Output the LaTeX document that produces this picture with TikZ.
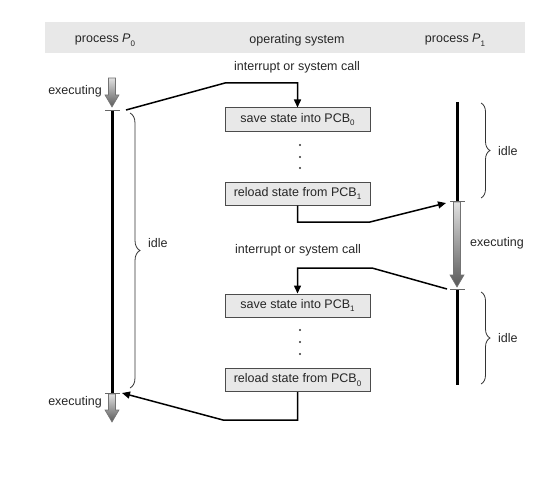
\documentclass[tikz,border=0pt]{standalone}
\usepackage{fontspec}
\setmainfont{Liberation Sans}
\usetikzlibrary{arrows.meta,decorations.pathreplacing,calc}
\newcommand\lowsub[1]{\raisebox{-3.5pt}{\fontsize{8}{8}\selectfont #1}}
\newcommand\gradarrow[3]{%
  \shade[top color=black!12,bottom color=black!65,draw=black!55,line width=0.6pt]
    ({#1-3.5},#2) -- ({#1+3.5},#2) -- ({#1+3.5},{#3-12}) -- ({#1+7},{#3-12}) -- (#1,#3)
    -- ({#1-7},{#3-12}) -- ({#1-3.5},{#3-12}) -- cycle;}
\begin{document}
\begin{tikzpicture}[x=1pt,y=-1pt,
  lbl/.style={font=\fontsize{12.5}{14}\selectfont, text=black!85, inner sep=0pt},
  osbox/.style={draw=black!70, fill=black!9, line width=1pt, minimum width=145pt,
    minimum height=23pt, inner sep=0pt, font=\fontsize{12.5}{14}\selectfont, text=black!85},
  conn/.style={line width=1.5pt, black},
  arr/.style={conn, -{Triangle[length=8pt,width=7pt]}},
  tickmark/.style={draw=black!60, line width=1pt},
  timeline/.style={line width=3pt, black},
  bracemark/.style={decorate, decoration={brace, amplitude=10pt}, draw=black!80, line width=0.8pt},
  dotmark/.style={fill=black!80}]
\useasboundingbox (0,0) rectangle (556,484);
\fill[black!9] (45,22) rectangle (525,53);
\node[lbl] (h0) at (105,40) {process \textit{P}\lowsub{0}};
\node[lbl] (hos) at (297,40) {operating system};
\node[lbl] (h1) at (455,40) {process \textit{P}\lowsub{1}};

% P0 timeline
\gradarrow{112}{78}{107}
\draw[timeline] (112,111) -- (112,393);
\draw[tickmark] (105,111) -- (120,111);
\gradarrow{112}{394}{422}
\draw[tickmark] (105,393) -- (120,393);
\node[lbl, anchor=east] (ex0a) at (102,91) {executing};
\node[lbl, anchor=east] (ex0b) at (102,402) {executing};
\draw[bracemark] (130,113) -- (130,388);
\node[lbl, anchor=west] (idle0) at (148,243) {idle};

% P1 timeline
\draw[timeline] (457,102) -- (457,201);
\gradarrow{457}{202}{287}
\draw[timeline] (457,289) -- (457,385);
\draw[tickmark] (450,201) -- (465,201);
\draw[tickmark] (450,289) -- (465,289);
\draw[bracemark, decoration={amplitude=9pt}] (481,103) -- (481,198);
\draw[bracemark, decoration={amplitude=9pt}] (481,292) -- (481,384);
\node[lbl, anchor=west] (idle1a) at (498,151) {idle};
\node[lbl, anchor=west] (idle1b) at (498,338) {idle};
\node[lbl, anchor=west] (ex1) at (470,243) {executing};

% OS
\node[lbl] (int1) at (297,67) {interrupt or system call};
\node[lbl] (int2) at (298,250) {interrupt or system call};
\node[osbox] (b1) at (297.5,119.5) {save state into PCB\lowsub{0}};
\node[osbox] (b2) at (297.5,193.5) {reload state from PCB\lowsub{1}};
\node[osbox] (b3) at (297.5,305.5) {save state into PCB\lowsub{1}};
\node[osbox] (b4) at (297.5,380) {reload state from PCB\lowsub{0}};
\foreach \y in {145,157,168,330,342,354} \fill[dotmark] (300,\y) circle (1.2);

\coordinate (p0out) at (126,110);
\coordinate (p1in) at (446,203);
\coordinate (p1out) at (447,289);
\coordinate (p0in) at (122,393);
\draw[arr] (p0out) -- (225,83) -| (b1.north);
\draw[arr] (b2.south) |- (370,222) -- (p1in);
\draw[arr] (p1out) -- (372,268) -| (b3.north);
\draw[arr] (b4.south) |- (223,420) -- (p0in);
\end{tikzpicture}
\end{document}
